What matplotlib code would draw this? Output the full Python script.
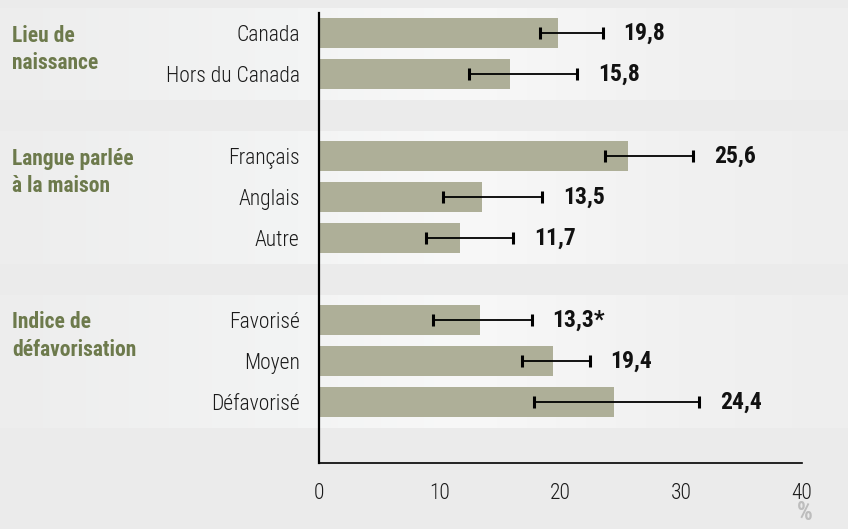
import numpy as np
import matplotlib
matplotlib.use("Agg")
import matplotlib.pyplot as plt
from matplotlib import font_manager
from matplotlib.colors import LinearSegmentedColormap
from matplotlib.transforms import blended_transform_factory

# -----------------------------
# Data
# -----------------------------
categories = ["Canada", "Hors du Canada",
              "Français", "Anglais", "Autre",
              "Favorisé", "Moyen", "Défavorisé"]
values = [19.8, 15.8, 25.6, 13.5, 11.7, 13.3, 19.4, 24.4]
ci_low = [18.3, 12.4, 23.7, 10.3, 8.9, 9.4, 16.8, 17.8]
ci_high = [23.5, 21.4, 31.0, 18.5, 16.1, 17.6, 22.4, 31.5]
value_labels = ["19,8", "15,8", "25,6", "13,5", "11,7", "13,3*", "19,4", "24,4"]

group_titles = [("Lieu de", "naissance"),
                ("Langue parlée", "à la maison"),
                ("Indice de", "défavorisation")]
group_sizes = [2, 3, 3]

x_ticks = [0, 10, 20, 30, 40]

# -----------------------------
# Style
# -----------------------------
BAR_COLOR = "#aeaf98"
GROUP_COLOR = "#6d7a4c"
BG_COLOR = "#ebebeb"


def pick_font():
    fonts = font_manager.fontManager.ttflist
    names = {f.name for f in fonts}
    for cand in ["Roboto Condensed", "Open Sans Condensed", "Liberation Sans Narrow"]:
        if cand in names:
            return cand, "normal"
    if any(f.name == "DejaVu Sans" and f.stretch == "condensed" for f in fonts):
        return "DejaVu Sans", "condensed"
    return "Roboto", "normal"


FONT, STRETCH = pick_font()
plt.rcParams["font.family"] = [FONT, "DejaVu Sans"]
plt.rcParams["font.stretch"] = STRETCH

LABEL_SIZE = 15.5
VALUE_SIZE = 17
LIGHT = 300

# row positions, with an empty row between groups
positions = []
group_starts = []
row = 0
for size in group_sizes:
    group_starts.append(row)
    positions.extend(range(row, row + size))
    row += size + 1
positions = np.array(positions)

fig = plt.figure(figsize=(8.48, 5.29), dpi=100)
fig.patch.set_facecolor(BG_COLOR)
ax = fig.add_axes([0.3762, 0.1242, 0.5696, 0.8518])
ax.set_facecolor("none")

# light gradient bands behind each group
band_cmap = LinearSegmentedColormap.from_list(
    "band", [(0.0, "#ededed"), (0.35, "#f3f4f4"), (0.55, "#f8f8f8"),
             (0.8, "#f1f1f1"), (1.0, "#eeeeee")])
grad = np.linspace(0, 1, 256).reshape(1, -1)
band_tr = blended_transform_factory(fig.transFigure, ax.transData)
for start, size in zip(group_starts, group_sizes):
    ax.imshow(grad, cmap=band_cmap, aspect="auto",
              extent=(0, 1, start + size - 1 + 0.63, start - 0.61),
              transform=band_tr, clip_on=False, zorder=0)

# bars
ax.barh(positions, values, height=0.73, color=BAR_COLOR, zorder=2)

# error bars
xerr = [np.array(values) - np.array(ci_low), np.array(ci_high) - np.array(values)]
ax.errorbar(values, positions, xerr=xerr, fmt="none", ecolor="black",
            elinewidth=1.3, capsize=4.6, capthick=2.2, zorder=3)

# value labels
for y, hi, lab in zip(positions, ci_high, value_labels):
    ax.annotate(lab, xy=(hi, y), xytext=(15, 0), textcoords="offset points",
                ha="left", va="center", fontsize=VALUE_SIZE,
                fontweight="bold", color="#111111")

# category labels
ax.set_yticks(positions)
ax.set_yticklabels(categories, fontsize=LABEL_SIZE, color="#1a1a1a",
                   fontweight=LIGHT)
ax.tick_params(axis="y", length=0, pad=14)

# group titles
title_tr = blended_transform_factory(fig.transFigure, ax.transData)
for start, (l1, l2) in zip(group_starts, group_titles):
    ax.text(12 / 848, start + 0.06, l1, transform=title_tr, ha="left", va="center",
            fontsize=LABEL_SIZE, fontweight="bold", color=GROUP_COLOR)
    ax.text(12 / 848, start + 0.74, l2, transform=title_tr, ha="left", va="center",
            fontsize=LABEL_SIZE, fontweight="bold", color=GROUP_COLOR)

# axes
ax.set_xlim(0, 40)
ax.set_ylim(positions[-1] + 1.5, -0.5)
ax.set_xticks(x_ticks)
ax.set_xticklabels([str(t) for t in x_ticks], fontsize=LABEL_SIZE, color="#1a1a1a",
                   fontweight=LIGHT)
ax.tick_params(axis="x", length=0, pad=14)

for side in ["top", "right"]:
    ax.spines[side].set_visible(False)
ax.spines["left"].set_linewidth(1.6)
ax.spines["bottom"].set_linewidth(1.2)
ax.spines["left"].set_zorder(4)

ax.annotate("%", xy=(40, 0), xycoords=("data", "axes fraction"),
            xytext=(2, -36), textcoords="offset points", ha="center", va="center",
            fontsize=18, fontweight="bold", color="#bdbdbd")

fig.savefig("out.png", dpi=100, facecolor=BG_COLOR)
